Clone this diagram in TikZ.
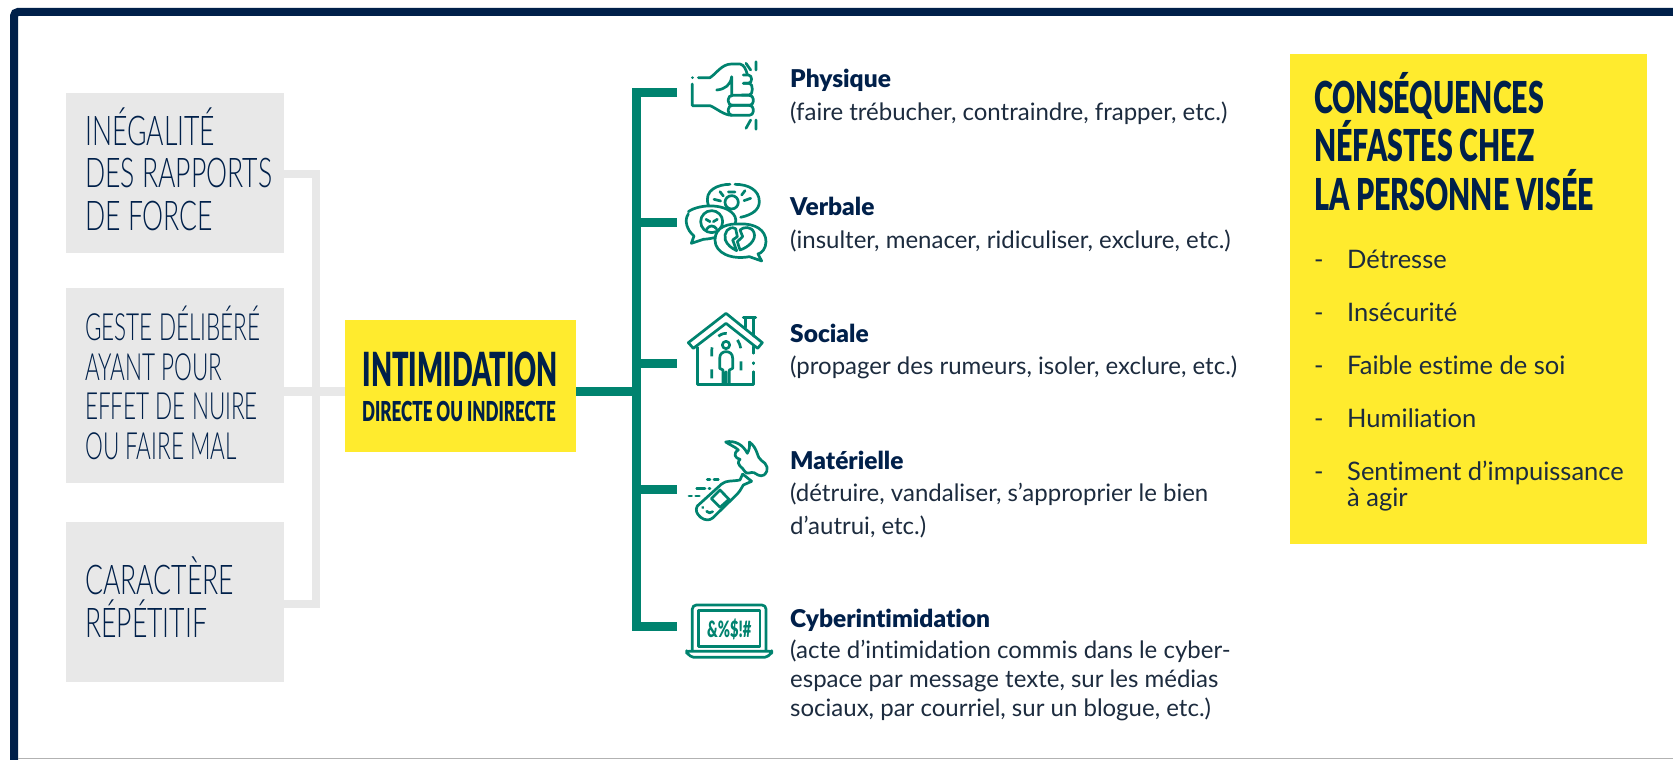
\documentclass[tikz,border=0pt]{standalone}
\usepackage{fontspec}
\setmainfont{Lato}
\newfontfamily\thinf[FakeStretch=0.648,UprightFont={* Light}]{Lato}
\newfontfamily\thing[FakeStretch=0.6,UprightFont={* Light}]{Lato}
\newfontfamily\headf[FakeStretch=0.58,UprightFont={* Black}]{Lato}
\newfontfamily\heade[FakeStretch=0.62,UprightFont={* Black}]{Lato}
\newfontfamily\headg[FakeStretch=0.65,UprightFont={* Black}]{Lato}
\newfontfamily\bodyf[Ligatures=NoCommon]{Lato}
\newfontfamily\boldf[Ligatures=NoCommon,UprightFont={* Black}]{Lato}
\definecolor{navy}{HTML}{00204A}
\definecolor{tealc}{HTML}{00836F}
\definecolor{yel}{HTML}{FFEB2E}
\definecolor{gbg}{HTML}{E8E8E8}
\definecolor{ink}{HTML}{1C2B3E}
\tikzset{
  gbox/.style={fill=gbg,draw=none,minimum width=218pt,inner sep=0pt},
  ybox/.style={fill=yel,draw=none,inner sep=0pt},
  thinlab/.style={anchor=base west,align=left,inner sep=0pt,text=navy,font=\thinf\fontsize{41}{42.5}\selectfont},
  heada/.style={anchor=base west,inner sep=0pt,text=navy,font=\headf\fontsize{47}{47}\selectfont},
  headb/.style={anchor=base west,inner sep=0pt,text=navy,font=\heade\fontsize{27.5}{27.5}\selectfont},
  headc/.style={anchor=base west,align=left,inner sep=0pt,text=navy,font=\headg\fontsize{44}{48.5}\selectfont},
  ttl/.style={anchor=base west,inner sep=0pt,text=navy,font=\boldf\fontsize{24.5}{29}\selectfont},
  desc/.style={anchor=base west,align=left,inner sep=0pt,text=ink,font=\bodyf\fontsize{24}{32.5}\selectfont},
  lst/.style={anchor=base west,align=left,inner sep=0pt,text=ink,font=\bodyf\fontsize{25.5}{26}\selectfont},
  greyl/.style={draw=gbg,line width=8.5pt},
  teall/.style={draw=tealc,line width=9pt},
  ico/.style={draw=tealc,line width=2.7pt,line cap=round,line join=round},
}
\begin{document}
\begin{tikzpicture}[x=1pt,y=-1pt]
\useasboundingbox (0,0) rectangle (1673,760);
\fill[white] (0,0) rectangle (1673,760);
\begin{scope}
\clip (0,0) rectangle (1673,760);
\draw[navy,line width=8pt,rounded corners=4pt] (14,770)--(14,12)--(1690,12);
\draw[gray!60,line width=1.2pt] (18,758.6)--(1673,758.6);
\end{scope}
% boxes
\coordinate (jt) at (316,174);
\coordinate (jm) at (316,391.5);
\coordinate (jb) at (316,604);
\node[gbox,minimum height=160pt] (b1) at (175,173) {};
\node[gbox,minimum height=195pt] (b2) at (175,385.5) {};
\node[gbox,minimum height=160pt] (b3) at (175,602) {};
\node[ybox,minimum width=231pt,minimum height=132pt] (im) at (460.5,386) {};
\node[ybox,minimum width=357pt,minimum height=490pt] (cq) at (1468.5,299) {};
% connectors
\draw[greyl] (b1.east |- jt) -- (jt) -- (jb) -- (b3.east |- jb);
\draw[greyl] (b2.east |- jm) -- (im.west |- jm);
\coordinate (tj) at (636.5,391.5);
\coordinate (i1) at (677,92.5);
\coordinate (i2) at (677,222);
\coordinate (i3) at (677,363.5);
\coordinate (i4) at (677,489);
\coordinate (i5) at (677,626.5);
\draw[teall] (im.east |- tj) -- (tj);
\draw[teall] (i1) -- (636.5,92.5) -- (636.5,626.5) -- (i5);
\draw[teall] (636.5,222) -- (i2);
\draw[teall] (636.5,363.5) -- (i3);
\draw[teall] (636.5,489) -- (i4);
% left labels
\node[thinlab] (t1) at (85,230) {INÉGALITÉ\\DES RAPPORTS\\DE FORCE};
\node[thinlab,font=\thing\fontsize{37.5}{39.5}\selectfont] (t2) at (85,459) {GESTE DÉLIBÉRÉ\\AYANT POUR\\EFFET DE NUIRE\\OU FAIRE MAL};
\node[thinlab] (t3) at (85,637) {CARACTÈRE\\RÉPÉTITIF};
% centre
\node[heada] (h1) at (362.5,386) {INTIMIDATION};
\node[headb] (h2) at (362,421) {DIRECTE OU INDIRECTE};
% right panel
\node[headc] (h3) at (1314,210) {CONSÉQUENCES\\NÉFASTES CHEZ\\LA PERSONNE VISÉE};
\foreach \n/\y/\s in {1/268/Détresse,2/321/Insécurité,3/374/Faible estime de soi,4/427/Humiliation}{
  \node[lst] (d\n) at (1314,\y) {-};
  \node[lst] (l\n) at (1347,\y) {\s};
}
\node[lst] (d5) at (1314,480) {-};
\node[lst] (l5) at (1347,506) {Sentiment d’impuissance\\à agir};
% middle text
\node[ttl] (p1) at (790,88) {Physique};
\node[desc] (q1) at (790,120.5) {(faire trébucher, contraindre, frapper, etc.)};
\node[ttl] (p2) at (790,215) {Verbale};
\node[desc] (q2) at (790,248) {(insulter, menacer, ridiculiser, exclure, etc.)};
\node[ttl] (p3) at (790,342.5) {Sociale};
\node[desc] (q3) at (790,374.5) {(propager des rumeurs, isoler, exclure, etc.)};
\node[ttl] (p4) at (790,469) {Matérielle};
\node[desc] (q4) at (790,534) {(détruire, vandaliser, s’approprier le bien\\d’autrui, etc.)};
\node[ttl] (p5) at (790,627.7) {Cyberintimidation};
\node[desc,font=\bodyf\fontsize{24}{29.3}\selectfont] (q5) at (790,716.7) {(acte d’intimidation commis dans le cyber-\\espace par message texte, sur les médias\\sociaux, par courriel, sur un blogue, etc.)};
% fist icon
\begin{scope}[shift={(660,40)},x=0.3333pt,y=-0.3333pt]
\draw[ico] (97,113)--(98,113) (115,113)--(150,113) .. controls (170,100) and (185,72) .. (215,72) -- (240,72) .. controls (252,74) and (258,88) .. (262,104);
\draw[ico] (97,132)--(97,197)--(150,197) .. controls (170,205) and (190,225) .. (215,226);
\draw[ico] (170,150) .. controls (195,148) and (212,135) .. (215,110) -- (215,168);
\draw[ico] (250,105) -- (265,105) .. controls (278,105) and (278,130) .. (265,130) -- (250,130);
\draw[ico] (250,130) -- (268,130) .. controls (280,130) and (280,165) .. (268,165) -- (245,165);
\draw[ico,rounded corners=4pt] (205,166) rectangle (280,196);
\draw[ico,rounded corners=4pt] (205,196) rectangle (280,226);
\draw[ico] (258,70)--(272,90) (288,65)--(288,90) (272,240)--(258,265) (288,240)--(288,268);
\end{scope}
% speech icon
\begin{scope}[shift={(660,40)},x=0.3333pt,y=-0.3333pt]
\draw[ico,fill=white] (145,495) .. controls (130,450) and (175,433) .. (210,433) (225,433) .. controls (265,433) and (298,450) .. (298,485) .. controls (298,510) and (275,525) .. (242,532);
\draw[ico] (215,487) circle[radius=20];
\draw[ico] (205,456)--(225,456) (180,455)--(190,468) (162,478)--(182,483) (255,452)--(245,465) (272,475)--(252,482);
\draw[ico,fill=white] (85,515) .. controls (120,490) and (205,490) .. (225,530) .. controls (240,560) and (190,595) .. (130,598) -- (94,610) -- (102,588) .. controls (80,570) and (72,540) .. (85,522);
\draw[ico] (155,545) circle[radius=33];
\draw[ico] (138,538)--(150,545) (172,538)--(160,545) (140,567) .. controls (148,555) and (162,555) .. (170,567);
\draw[ico,fill=white] (165,600) .. controls (165,560) and (205,550) .. (240,552) .. controls (285,550) and (318,570) .. (318,605) .. controls (318,625) and (305,640) .. (294,642) -- (305,663) -- (268,650) .. controls (215,660) and (165,640) .. (165,600) -- cycle;
\draw[ico] (227,566) .. controls (205,555) and (190,580) .. (196,600) .. controls (202,615) and (215,625) .. (230,632) -- (218,600) -- (232,590) -- cycle;
\draw[ico] (240,630) .. controls (265,622) and (290,600) .. (282,578) .. controls (275,558) and (250,560) .. (240,570) -- (248,590) -- (232,605) -- cycle;
\end{scope}
% house icon
\begin{scope}[shift={(660,290)},x=0.3333pt,y=-0.3333pt]
\draw[ico] (85,158)--(198,70)--(307,158)--(293,175)--(198,100)--(100,175)--cycle;
\draw[ico] (250,83)--(287,83) (256,88)--(256,112) (281,88)--(281,138);
\draw[ico] (112,172)--(112,283)--(280,283)--(280,245) (280,218)--(280,221) (280,190)--(280,170);
\draw[ico,dash pattern=on 9pt off 13pt,line cap=butt] (155,265)--(155,185) .. controls (155,155) and (175,130) .. (198,130) .. controls (222,130) and (243,155) .. (243,185)--(243,265);
\draw[ico] (198,165) circle[radius=11];
\draw[ico] (189,282)--(189,240)--(179,235)--(179,205) .. controls (179,190) and (190,185) .. (198,185) .. controls (208,185) and (218,190) .. (218,205)--(218,235)--(208,240)--(208,282) (198,245)--(198,282);
\end{scope}
% bottle icon
\begin{scope}[shift={(660,290)},x=0.3333pt,y=-0.3333pt]
\draw[ico] (248,552)--(275,574) (248,552)--(240,570) .. controls (215,575) and (200,570) .. (185,582) -- (112,648) .. controls (105,660) and (110,672) .. (122,682) .. controls (135,692) and (148,692) .. (158,684) -- (232,612) .. controls (245,598) and (245,590) .. (250,585) -- (275,574);
\draw[ico] (154,626)--(180,600)--(207,628)--(180,652)--cycle;
\draw[ico] (128,652)--(129,653) (140,664) .. controls (145,670) and (152,670) .. (158,665);
\draw[ico] (197,456) .. controls (225,450) and (250,465) .. (262,490) .. controls (268,480) and (270,468) .. (268,456) .. controls (295,475) and (290,505) .. (305,512) .. controls (320,520) and (330,540) .. (312,555) .. controls (300,562) and (290,552) .. (282,548) .. controls (270,545) and (262,555) .. (255,545) .. controls (248,530) and (225,525) .. (240,508) .. controls (225,505) and (218,490) .. (235,480) .. controls (225,470) and (210,465) .. (197,456) -- cycle;
\draw[ico] (142,568)--(150,568) (162,568)--(175,568) (110,595)--(135,595) (147,595)--(150,595) (87,618)--(95,618) (107,618)--(118,618);
\end{scope}
% laptop icon
\begin{scope}[shift={(660,590)},x=0.3333pt,y=-0.3333pt]
\draw[ico,rounded corners=4pt] (97,182)--(97,45)--(318,45)--(318,182);
\draw[ico] (115,62) rectangle (300,170);
\draw[ico,rounded corners=2pt] (80,184)--(335,184)--(335,188)--(320,202)--(95,202)--(80,188)--cycle;
\node[inner sep=0pt,text=tealc,font=\headg\fontsize{22.5}{22.5}\selectfont] (lap) at (208,118) {\&\%\$!\#};
\end{scope}
\end{tikzpicture}
\end{document}
